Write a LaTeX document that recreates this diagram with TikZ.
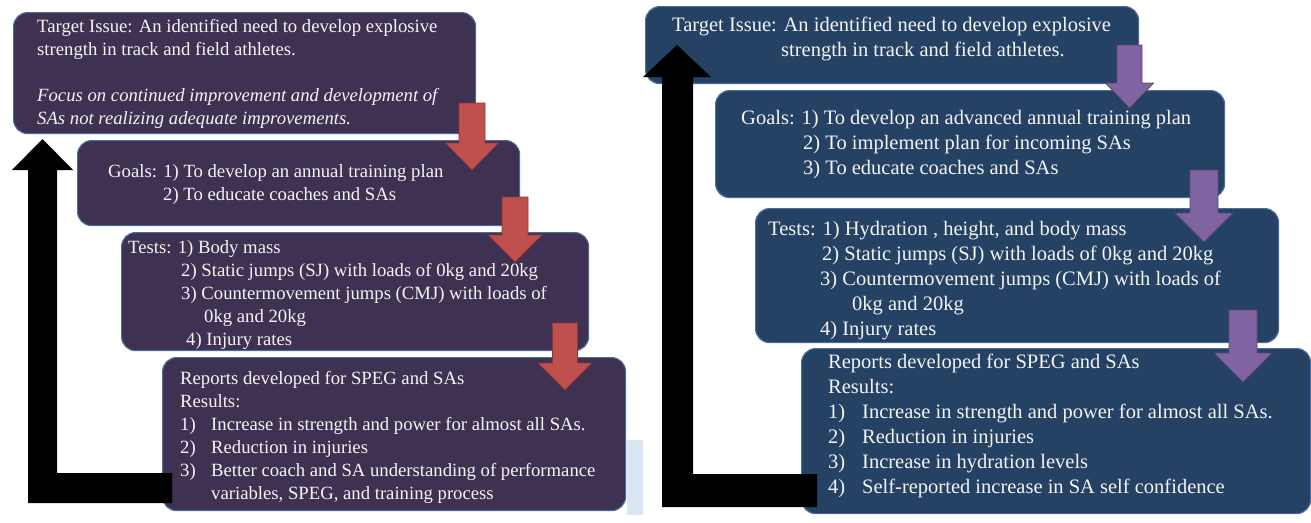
\documentclass[tikz,border=0pt]{standalone}
\usepackage{fontspec}
\setmainfont{Liberation Serif}
\usetikzlibrary{calc}

\definecolor{lfill}{HTML}{3F3151}
\definecolor{rfill}{HTML}{254264}
\definecolor{boxline}{HTML}{4A6E9C}
\definecolor{redfill}{HTML}{C0504D}
\definecolor{redline}{HTML}{8C3836}
\definecolor{purfill}{HTML}{8064A2}
\definecolor{purline}{HTML}{5C4776}
\definecolor{txt}{HTML}{F4F4F4}
\definecolor{strip}{HTML}{DAE5F3}

\tikzset{
  stage/.style={draw=boxline, line width=1.2pt, rounded corners=14pt,
    anchor=north west, inner sep=0pt},
  lstage/.style={stage, fill=lfill},
  rstage/.style={stage, fill=rfill},
  stagetext/.style={anchor=north west, inner sep=0pt, text=txt, align=left},
  ltext/.style={stagetext, font=\fontsize{18.7}{23}\selectfont},
  rtext/.style={stagetext, font=\fontsize{20.5}{25}\selectfont},
  redarrow/.style={fill=redfill, draw=redline, line width=0.8pt},
  purarrow/.style={fill=purfill, draw=purline, line width=0.8pt},
  looparrow/.style={fill=black},
}

% downward block arrow: style, start, tip, shaft half width, head half width, head length
\newcommand{\blockdown}[6]{%
  \path[#1] ($(#2)+(-#4,0)$) -- ($(#2)+(#4,0)$) -- ($(#3)+(#4,-#6)$)
    -- ($(#3)+(#5,-#6)$) -- (#3) -- ($(#3)+(-#5,-#6)$) -- ($(#3)+(-#4,-#6)$) -- cycle;}

\begin{document}
\begin{tikzpicture}[x=1pt, y=-1pt]
\useasboundingbox (0,0) rectangle (1311,522);
\fill[white] (0,0) rectangle (1311,522);

% thin strip between the two panels
\fill[strip] (627,440) rectangle (643,515);

% ---------- left cycle ----------
\node[lstage, minimum width=462pt, minimum height=121pt] (L1) at (13,12) {};
\node[lstage, minimum width=442pt, minimum height=85pt] (L2) at (77,140) {};
\node[lstage, minimum width=467pt, minimum height=118pt] (L3) at (121,232) {};
\node[lstage, minimum width=463pt, minimum height=153pt] (L4) at (162,357) {};

\node[ltext] (L1t) at (37,16.5) {\strut Target Issue: An identified need to develop explosive\\
strength in track and field athletes.\\[23pt]
\textit{Focus on continued improvement and development of}\\
\textit{SAs not realizing adequate improvements.}};

\node[ltext] (L2t) at (108,161.5) {\strut Goals: 1) To develop an annual training plan\\
\hspace*{55pt}2) To educate coaches and SAs};

\node[ltext] (L3t) at (128,237.5) {\strut Tests: 1) Body mass\\
\hspace*{53pt}2) Static jumps (SJ) with loads of 0kg and 20kg\\
\hspace*{53pt}3) Countermovement jumps (CMJ) with loads of\\
\hspace*{76pt}0kg and 20kg\\
\hspace*{58pt}4) Injury rates};

\node[ltext] (L4t) at (180,368.5) {\strut Reports developed for SPEG and SAs\\
Results:\\
\makebox[31pt][l]{1)}Increase in strength and power for almost all SAs.\\
\makebox[31pt][l]{2)}Reduction in injuries\\
\makebox[31pt][l]{3)}Better coach and SA understanding of performance\\
\hspace*{31pt}variables, SPEG, and training process};

\coordinate (ra1s) at (472,103);  \coordinate (ra1e) at (472,170);
\coordinate (ra2s) at (515,197);  \coordinate (ra2e) at (515,262);
\coordinate (ra3s) at (565,323);  \coordinate (ra3e) at (565,390);
\blockdown{redarrow}{ra1s}{ra1e}{13}{26.5}{27}
\blockdown{redarrow}{ra2s}{ra2e}{13}{27}{27}
\blockdown{redarrow}{ra3s}{ra3e}{12.5}{27}{27}

% feedback arrow from reports back to the target issue
\coordinate (lbar) at (172,473);
\coordinate (ltip) at (42.5,139);
\path[looparrow] (lbar) -- (57,473) -- (57,170) -- (73,170) -- (ltip)
  -- (12,170) -- (28,170) -- (28,503) -- (172,503) -- cycle;

% ---------- right cycle ----------
\node[rstage, minimum width=493pt, minimum height=77pt] (R1) at (645,6) {};
\node[rstage, minimum width=509pt, minimum height=107pt] (R2) at (715,90) {};
\node[rstage, minimum width=523pt, minimum height=134pt] (R3) at (755,208) {};
\node[rstage, minimum width=509pt, minimum height=165pt] (R4) at (801,348) {};

\node[rtext] (R1t) at (672,13.7) {\strut Target Issue: An identified need to develop explosive\\
\hspace*{109pt}strength in track and field athletes.};

\node[rtext] (R2t) at (741,106.7) {\strut Goals: 1) To develop an advanced annual training plan\\
\hspace*{62pt}2) To implement plan for incoming SAs\\
\hspace*{62pt}3) To educate coaches and SAs};

\node[rtext] (R3t) at (768,217.7) {\strut Tests: 1) Hydration , height, and body mass\\
\hspace*{54pt}2) Static jumps (SJ) with loads of 0kg and 20kg\\
\hspace*{52pt}3) Countermovement jumps (CMJ) with loads of\\
\hspace*{84pt}0kg and 20kg\\
\hspace*{52pt}4) Injury rates};

\node[rtext] (R4t) at (828,350.7) {\strut Reports developed for SPEG and SAs\\
Results:\\
\makebox[34pt][l]{1)}Increase in strength and power for almost all SAs.\\
\makebox[34pt][l]{2)}Reduction in injuries\\
\makebox[34pt][l]{3)}Increase in hydration levels\\
\makebox[34pt][l]{4)}Self-reported increase in SA self confidence};

\coordinate (pa1s) at (1129.5,45); \coordinate (pa1e) at (1129.5,108);
\coordinate (pa2s) at (1204,170);  \coordinate (pa2e) at (1204,242);
\coordinate (pa3s) at (1243,310);  \coordinate (pa3e) at (1243,382);
\blockdown{purarrow}{pa1s}{pa1e}{12.5}{24}{25}
\blockdown{purarrow}{pa2s}{pa2e}{14}{29}{29}
\blockdown{purarrow}{pa3s}{pa3e}{14}{29}{29}

\coordinate (rbar) at (817,474);
\coordinate (rtip) at (677,45);
\path[looparrow] (rbar) -- (693,474) -- (693,77) -- (711,77) -- (rtip)
  -- (643,77) -- (662,77) -- (662,507) -- (817,507) -- cycle;
\end{tikzpicture}
\end{document}
